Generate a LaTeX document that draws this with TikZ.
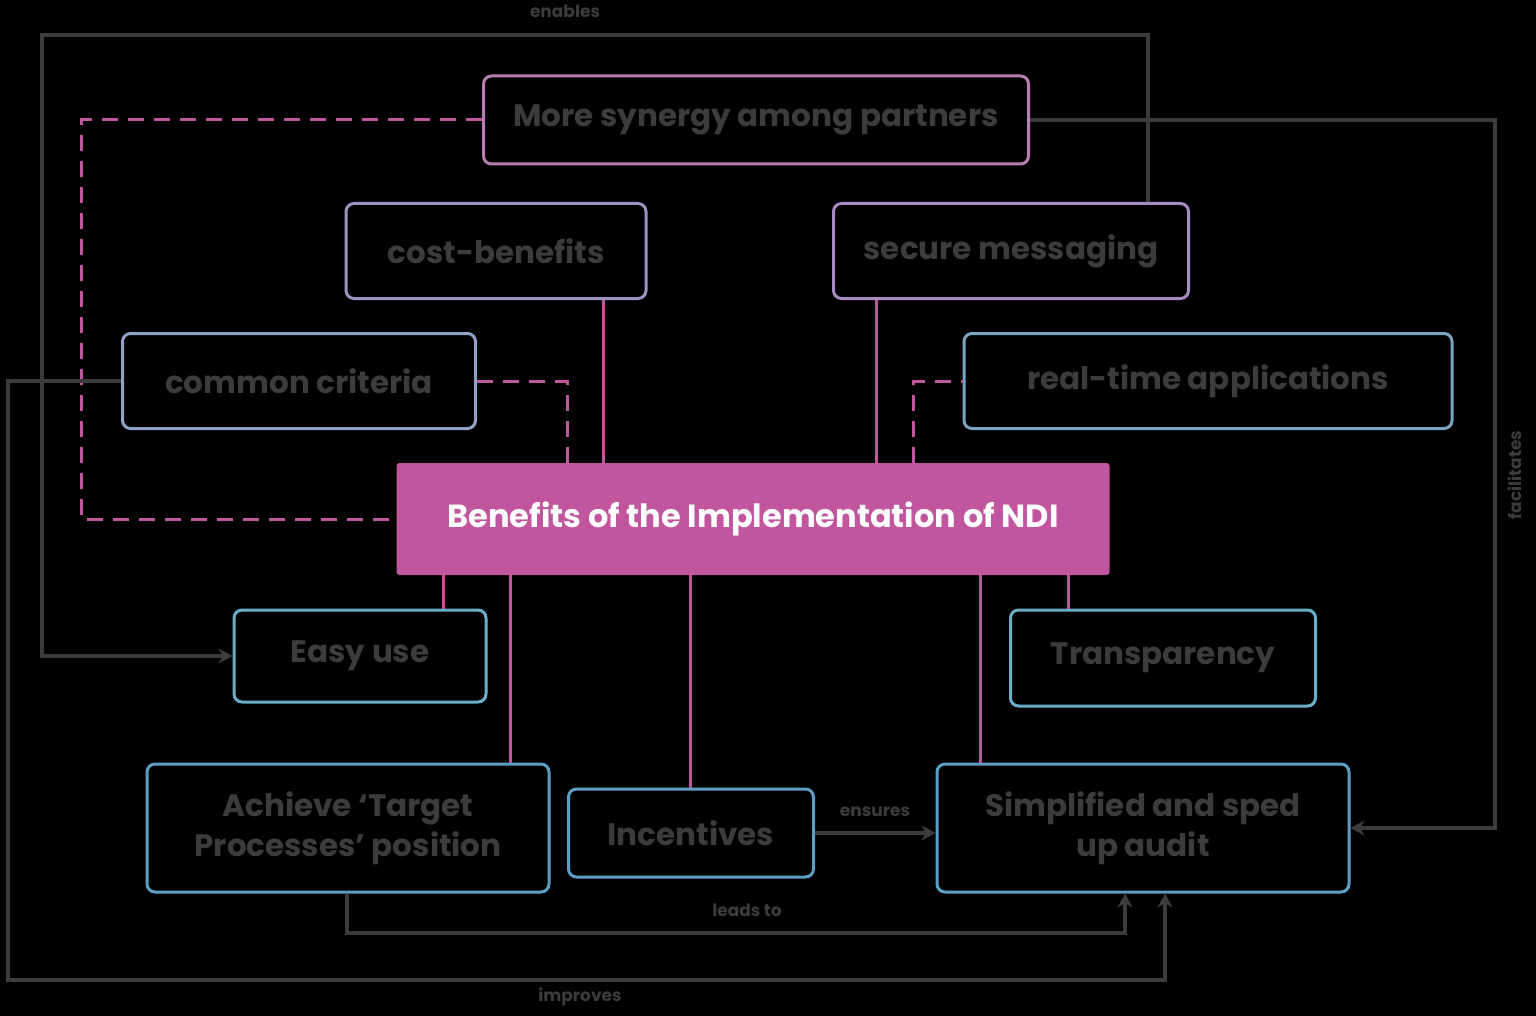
\documentclass[tikz,border=0pt]{standalone}
\usepackage{fontspec}
\setmainfont{Poppins}
\usepackage{tikz}
\usetikzlibrary{arrows.meta}

\definecolor{ndipink}{HTML}{C2569E}
\definecolor{ndirose}{HTML}{B97DB0}
\definecolor{ndililac}{HTML}{9D90C2}
\definecolor{ndiviolet}{HTML}{A78BC2}
\definecolor{ndislate}{HTML}{8FA2C8}
\definecolor{ndisteel}{HTML}{7CA3C4}
\definecolor{nditeal}{HTML}{6AAFCA}
\definecolor{ndiblue}{HTML}{5C9EC6}
\definecolor{ndigray}{HTML}{3C3C3C}

\begin{document}
\begin{tikzpicture}[x=1pt,y=-1pt,
  benefit/.style={draw,line width=3pt,rounded corners=8pt,inner sep=0pt,align=center,
    text=ndigray,font=\fontsize{31}{40}\selectfont\bfseries},
  hub/.style={fill=ndipink,rounded corners=3pt,inner sep=0pt,text=white,
    font=\fontsize{32}{38}\selectfont\bfseries},
  link/.style={draw=ndipink,line width=3pt},
  dashlink/.style={link,dash pattern=on 16pt off 10pt},
  flow/.style={draw=ndigray,line width=3.5pt,-{Stealth[length=14pt,width=15pt]}},
  flowlabel/.style={text=ndigray,font=\fontsize{17}{20}\selectfont\bfseries,inner sep=1pt}]
\fill[black] (0,0) rectangle (1536,1016);
\useasboundingbox (0,0) rectangle (1536,1016);
% boxes
\node[hub,minimum width=713pt,minimum height=112pt] (ndi) at (753,519) {Benefits of the Implementation of NDI};
\node[benefit,draw=ndirose,minimum width=545pt,minimum height=88pt] (synergy) at (756,120) {More synergy among partners};
\node[benefit,draw=ndililac,minimum width=300pt,minimum height=95pt] (cost) at (496,251) {cost-benefits};
\node[benefit,draw=ndiviolet,minimum width=355pt,minimum height=95pt] (secure) at (1011,251) {secure messaging};
\node[benefit,draw=ndislate,minimum width=353pt,minimum height=95pt] (criteria) at (299,381) {common criteria};
\node[benefit,draw=ndisteel,minimum width=488pt,minimum height=95pt] (realtime) at (1208,381) {real-time applications};
\node[benefit,draw=nditeal,minimum width=252pt,minimum height=92pt] (easy) at (360,656) {Easy use};
\node[benefit,draw=nditeal,minimum width=305pt,minimum height=96pt] (transp) at (1163,658) {Transparency};
\node[benefit,draw=ndiblue,minimum width=402pt,minimum height=128pt] (target) at (348,828) {Achieve `Target\\Processes' position};
\node[benefit,draw=ndiblue,minimum width=245pt,minimum height=88pt] (incent) at (691,833) {Incentives};
\node[benefit,draw=ndiblue,minimum width=412pt,minimum height=128pt] (simple) at (1143,828) {Simplified and sped\\up audit};
% columns and corners
\coordinate (xa) at (603,0);\coordinate (xb) at (876,0);\coordinate (xc) at (443,0);
\coordinate (xd) at (1068,0);\coordinate (xe) at (510,0);\coordinate (xf) at (690,0);
\coordinate (xg) at (980,0);\coordinate (xh) at (567,0);\coordinate (xi) at (913,0);
\coordinate (xj) at (1148,0);\coordinate (xk) at (1165,0);\coordinate (xl) at (347,0);
\coordinate (xm) at (1125,0);
\coordinate (tl) at (42,35);\coordinate (bl) at (8,980);\coordinate (rc) at (1495,828);
\coordinate (yb) at (0,933);
% hub links
\draw[dashlink] (synergy.west) -- ++(-401,0) |- (ndi.west);
\draw[dashlink] (ndi.north -| xh) |- (criteria.east);
\draw[dashlink] (ndi.north -| xi) |- (realtime.west);
\draw[link] (ndi.north -| xa) -- (cost.south -| xa);
\draw[link] (ndi.north -| xb) -- (secure.south -| xb);
\draw[link] (ndi.south -| xc) -- (easy.north -| xc);
\draw[link] (ndi.south -| xd) -- (transp.north -| xd);
\draw[link] (ndi.south -| xe) -- (target.north -| xe);
\draw[link] (ndi.south -| xf) -- (incent.north -| xf);
\draw[link] (ndi.south -| xg) -- (simple.north -| xg);
% flows
\draw[flow] (secure.north -| xj) |- (tl) |- (easy.west);
\draw[flow] (criteria.west) -| (bl) -| (simple.south -| xk);
\draw[flow] (synergy.east) -| (rc) -- (simple.east);
\draw[flow] (incent.east) -- (simple.west |- incent.east);
\draw[flow] (target.south -| xl) |- (yb -| xl) -| (simple.south -| xm);
\node[flowlabel] (lbtop) at (565,11) {enables};
\node[flowlabel,rotate=90] (lbright) at (1515,475) {facilitates};
\node[flowlabel] (lbbottom) at (580,997) {improves};
\node[flowlabel] (lbmid) at (875,812) {ensures};
\node[flowlabel] (lblow) at (747,910) {leads to};
\end{tikzpicture}
\end{document}
